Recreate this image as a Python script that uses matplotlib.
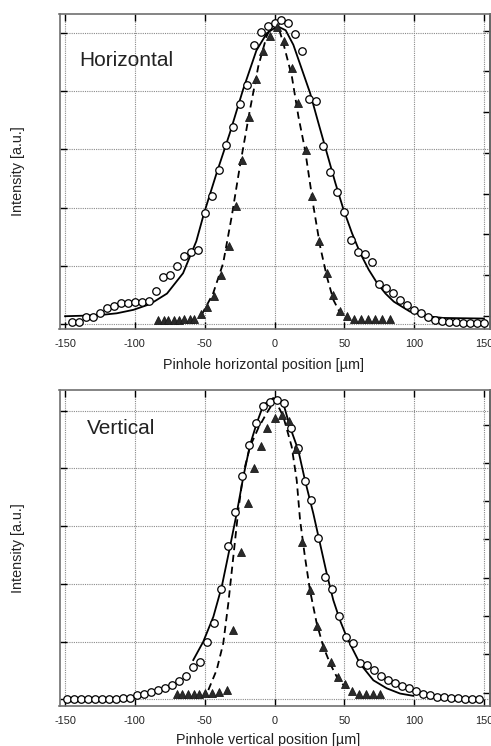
import matplotlib
matplotlib.use("Agg")
import matplotlib.pyplot as plt

plt.rcParams['font.family'] = ['Liberation Sans', 'DejaVu Sans']
plt.rcParams['axes.unicode_minus'] = False

# ---------------- data: horizontal ----------------
h_circ_x = [-145, -140, -135, -130, -125, -120, -115, -110, -105, -100, -95, -90, -85, -80, -75,
            -70, -65, -60, -55, -50, -45, -40, -35, -30, -25, -20, -15, -10, -5, 0,
            5, 10, 15, 20, 25, 30, 35, 40, 45, 50, 55, 60, 65, 70, 75,
            80, 85, 90, 95, 100, 105, 110, 115, 120, 125, 130, 135, 140, 145, 150]
h_circ_y = [0.03, 0.03, 0.11, 0.11, 0.19, 0.27, 0.31, 0.35, 0.36, 0.38, 0.38, 0.39, 0.56, 0.81, 0.84,
            1.00, 1.17, 1.23, 1.27, 1.90, 2.19, 2.64, 3.07, 3.38, 3.78, 4.10, 4.80, 5.02, 5.12, 5.17,
            5.22, 5.18, 4.98, 4.70, 3.87, 3.83, 3.06, 2.61, 2.27, 1.92, 1.44, 1.23, 1.20, 1.07, 0.68,
            0.61, 0.53, 0.41, 0.32, 0.24, 0.18, 0.11, 0.06, 0.05, 0.03, 0.03, 0.02, 0.02, 0.02, 0.02]

h_tri_x = [-83.5, -79.5, -76, -72, -68.5, -64.5, -60.5, -57.5, -53, -48, -43, -38, -32.5, -27.5,
           -23.5, -18, -13, -8, -3.5, 1.5, 7, 12.5, 17, 22.5, 27, 32, 37.5, 42, 47, 52, 57, 62,
           67, 72, 77, 82.5]
h_tri_y = [0.06, 0.06, 0.06, 0.06, 0.06, 0.08, 0.08, 0.09, 0.16, 0.28, 0.47, 0.84, 1.33, 2.02,
           2.81, 3.56, 4.22, 4.70, 4.96, 5.10, 4.86, 4.40, 3.80, 2.99, 2.20, 1.43, 0.88, 0.49, 0.22,
           0.13, 0.09, 0.08, 0.08, 0.08, 0.08, 0.08]

h_fit_x = [-150, -135, -125, -113, -101, -89, -77, -65.5, -56, -50.5, -41.5, -32, -22.5, -13,
           -5.5, 2, 8, 13.5, 19, 25.5, 31.5, 37.5, 43.5, 49.5, 55.5, 61.5, 67.5, 73.5, 79.5, 85.5,
           97, 109, 121, 135, 150]
h_fit_y = [0.13, 0.14, 0.15, 0.18, 0.24, 0.34, 0.52, 0.87, 1.42, 1.90, 2.59, 3.28, 4.03, 4.70,
           5.00, 5.12, 5.05, 4.80, 4.42, 3.97, 3.45, 2.94, 2.43, 1.96, 1.56, 1.21, 0.93, 0.70, 0.52,
           0.38, 0.21, 0.13, 0.10, 0.095, 0.09]

h_dash_x = [-52.3, -44, -36.8, -30.7, -24.8, -17.6, -11.6, -5.6, -2.5, 0.4, 3.5, 6.3, 12.4, 17.1,
            21.9, 27.9, 32.7, 37.5, 42.2, 47.1, 51.9]
h_dash_y = [0.15, 0.52, 1.04, 1.84, 2.71, 3.68, 4.43, 4.95, 5.10, 5.15, 5.05, 4.83, 4.26, 3.57,
            2.99, 2.02, 1.33, 0.81, 0.41, 0.18, 0.09]

# ---------------- data: vertical ----------------
v_circ_x = [-148.5, -143.5, -138.5, -133.5, -128.5, -123.5, -118.5, -113.5, -108.5, -103.5,
            -98.5, -93.5, -88.5, -83.5, -78.5, -73.5, -68.5, -63.5, -58.5, -53.5,
            -48.5, -43.5, -38.5, -33.5, -28.5, -23.5, -18.5, -13.5, -8.5, -3.5,
            1.5, 6.5, 11.5, 16.5, 21.5, 26.5, 31.5, 36.5, 41.5, 46.5,
            51.5, 56.5, 61.5, 66.5, 71.5, 76.5, 81.5, 86.5, 91.5, 96.5,
            101.5, 106.5, 111.5, 116.5, 121.5, 126.5, 131.5, 136.5, 141.5, 146.5]
v_circ_y = [0.0, 0.0, 0.0, 0.0, 0.0, 0.0, 0.01, 0.01, 0.02, 0.03,
            0.07, 0.10, 0.13, 0.16, 0.19, 0.25, 0.32, 0.40, 0.56, 0.65,
            1.00, 1.33, 1.91, 2.66, 3.24, 3.87, 4.40, 4.79, 5.09, 5.16,
            5.19, 5.13, 4.70, 4.35, 3.78, 3.45, 2.80, 2.12, 1.91, 1.44,
            1.08, 0.98, 0.63, 0.59, 0.50, 0.40, 0.33, 0.28, 0.23, 0.19,
            0.15, 0.10, 0.075, 0.045, 0.035, 0.03, 0.02, 0.01, 0.01, 0.01]

v_tri_x = [-70, -66, -61.7, -57.7, -53.9, -49.8, -44.6, -39.5, -34.2, -29.5, -24.2, -19.2, -14.7,
           -9.9, -5.2, 0.4, 5.2, 10.6, 15.4, 19.9, 25.4, 30.7, 35, 40.5, 45.7, 50.5, 55.3, 60.5,
           65.5, 70.3, 75.6]
v_tri_y = [0.10, 0.10, 0.10, 0.10, 0.10, 0.11, 0.11, 0.13, 0.16, 1.20, 2.56, 3.40, 4.00,
           4.39, 4.71, 4.87, 4.93, 4.83, 4.34, 2.73, 1.89, 1.27, 0.90, 0.64, 0.39, 0.26, 0.15, 0.10,
           0.10, 0.10, 0.09]

v_fit_x = [-58.2, -51, -43.8, -37.8, -31.9, -27.1, -22.3, -17.5, -12.8, -8, -0.9, 6.3, 11.1, 17,
           21.8, 27.8, 32.6, 37.4, 42.1, 46.9, 51.7, 56.4, 61.2, 70.8, 80.4, 89.9, 99.4]
v_fit_y = [0.68, 1.0, 1.43, 1.95, 2.64, 3.22, 3.86, 4.41, 4.78, 5.10, 5.22, 5.13, 4.72, 4.32,
           3.80, 3.22, 2.70, 2.18, 1.72, 1.37, 1.08, 0.85, 0.62, 0.33, 0.19, 0.10, 0.06]

v_dash_x = [-47.4, -41.4, -36.7, -33.1, -29.5, -25.9, -22.3, -17.5, -11.6, -5.6, 0.4, 6.3, 12.3,
            15.9, 18.3, 21.8, 25.4, 30.2, 35, 39.8, 44.6, 49.3, 54.1]
v_dash_y = [0.16, 0.51, 0.97, 1.66, 2.47, 3.28, 3.92, 4.38, 4.70, 4.96, 5.19, 4.90, 4.38,
            3.80, 3.11, 2.47, 1.89, 1.32, 0.91, 0.62, 0.39, 0.25, 0.16]

x_ticks = [-150, -100, -50, 0, 50, 100, 150]
y_grid = [0, 1, 2, 3, 4, 5]
right_ticks = [0, 1, 2, 3, 4, 5, 6, 7]

W, H = 491, 746
fig = plt.figure(figsize=(W / 100, H / 100), dpi=100)


def make_panel(rect_px, ylim, rt0, rstep, cx, cy, fx, fy, dx, dy, tx, ty, title, title_pos):
    l, t, r, b = rect_px
    ax = fig.add_axes([l / W, 1 - b / H, (r - l) / W, (b - t) / H])
    ax.set_xlim(-154, 154)
    ax.set_ylim(*ylim)
    ax.set_xticks(x_ticks)
    ax.set_xticklabels([str(v) for v in x_ticks])
    ax.set_yticks(y_grid)
    ax.set_yticklabels([])
    ax.grid(True, color='#8a8a8a', linestyle=(0, (1, 1)), linewidth=0.8)
    ax.tick_params(axis='both', direction='in', length=5, width=1.0, color='black',
                   labelsize=7.8, top=True, right=False, pad=7, labelcolor='#222222')
    for s in ax.spines.values():
        s.set_color('#707070')
        s.set_linewidth(1.2)

    ax.plot(fx, fy, color='black', linewidth=1.3, zorder=3)
    ax.plot(dx, dy, color='black', linewidth=1.3, linestyle=(0, (4, 2.6)), zorder=3)
    ax.plot(cx, cy, linestyle='none', marker='o', markersize=5.4, markerfacecolor='white',
            markeredgecolor='black', markeredgewidth=0.9, zorder=4)
    ax.plot(tx, ty, linestyle='none', marker='^', markersize=6.0, markerfacecolor='#2a2a2a',
            markeredgecolor='#1a1a1a', markeredgewidth=0.6, zorder=5)

    sec = ax.secondary_yaxis('right', functions=(lambda y: (y - rt0) / rstep,
                                                  lambda v: v * rstep + rt0))
    sec.set_yticks(right_ticks)
    sec.set_yticklabels([])
    sec.tick_params(direction='in', length=5, width=1.0, color='black')
    sec.spines['right'].set_color('#222222')
    sec.spines['right'].set_linewidth(1.2)

    ax.text(title_pos[0], title_pos[1], title, transform=ax.transAxes, fontsize=15,
            color='#222222', ha='left', va='center')
    return ax


make_panel((59.5, 14, 489.5, 329), (-0.09, 5.33), 0.133, 0.7017,
           h_circ_x, h_circ_y, h_fit_x, h_fit_y, h_dash_x, h_dash_y, h_tri_x, h_tri_y,
           'Horizontal', (0.046, 0.851))
make_panel((59.5, 390, 489.5, 706), (-0.116, 5.36), 0.114, 0.664,
           v_circ_x, v_circ_y, v_fit_x, v_fit_y, v_dash_x, v_dash_y, v_tri_x, v_tri_y,
           'Vertical', (0.063, 0.877))

fig.text(18 / W, 1 - 171.5 / H, 'Intensity [a.u.]', rotation=90, ha='center', va='center',
         fontsize=10.4, color='#222222')
fig.text(18 / W, 1 - 548 / H, 'Intensity [a.u.]', rotation=90, ha='center', va='center',
         fontsize=10.4, color='#222222')
fig.text(263.7 / W, 1 - 365 / H, 'Pinhole horizontal position [µm]', ha='center', va='center',
         fontsize=10.4, color='#222222')
fig.text(268 / W, 1 - 740 / H, 'Pinhole vertical position [µm]', ha='center', va='center',
         fontsize=10.4, color='#222222')

fig.savefig('out.png', dpi=100)
